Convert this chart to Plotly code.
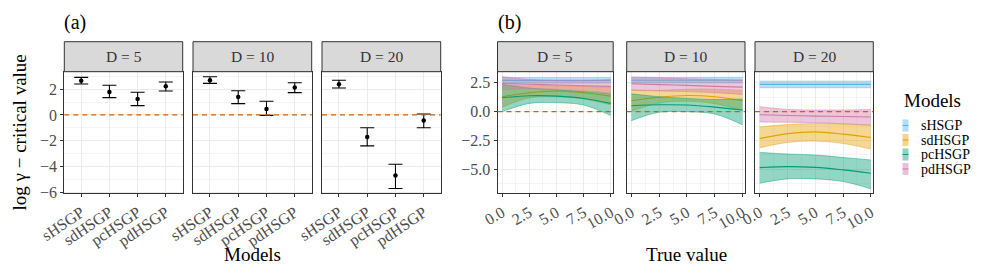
import plotly.graph_objects as go

W, H = 997, 277

# ---------------- data ----------------
models = ["sHSGP", "sdHSGP", "pcHSGP", "pdHSGP"]
dims = ["D = 5", "D = 10", "D = 20"]

# (a) critical-value estimates and intervals per D
crit_mean_D5 = [2.67, 1.79, 1.25, 2.23]
crit_lo_D5 = [2.41, 1.35, 0.73, 1.87]
crit_hi_D5 = [2.93, 2.31, 1.77, 2.57]
crit_mean_D10 = [2.70, 1.40, 0.47, 2.13]
crit_lo_D10 = [2.46, 0.88, -0.03, 1.74]
crit_hi_D10 = [2.98, 1.89, 1.07, 2.51]
crit_mean_D20 = [2.39, -1.71, -4.72, -0.44]
crit_lo_D20 = [2.10, -2.41, -5.73, -0.99]
crit_hi_D20 = [2.70, -0.99, -3.84, 0.08]

# (b) smooth fits vs true value
true_value = [0, 2.5, 5, 7.5, 10]

D5_sHSGP_mean = [2.72, 2.72, 2.72, 2.72, 2.72]
D5_sHSGP_lo = [2.48, 2.48, 2.48, 2.48, 2.48]
D5_sHSGP_hi = [2.97, 2.97, 2.97, 2.97, 2.97]
D5_sdHSGP_mean = [1.30, 1.65, 1.80, 1.65, 1.35]
D5_sdHSGP_lo = [0.40, 1.20, 1.35, 1.10, 0.60]
D5_sdHSGP_hi = [2.30, 2.25, 2.25, 2.20, 2.10]
D5_pcHSGP_mean = [1.21, 1.38, 1.35, 1.15, 0.72]
D5_pcHSGP_lo = [0.00, 0.72, 0.78, 0.58, -0.34]
D5_pcHSGP_hi = [2.40, 2.05, 1.90, 1.75, 1.55]
D5_pdHSGP_mean = [2.45, 2.38, 2.32, 2.25, 2.20]
D5_pdHSGP_lo = [1.90, 2.00, 1.95, 1.80, 1.60]
D5_pdHSGP_hi = [3.05, 2.80, 2.70, 2.70, 2.80]

D10_sHSGP_mean = [2.73, 2.73, 2.73, 2.73, 2.73]
D10_sHSGP_lo = [2.50, 2.50, 2.50, 2.50, 2.50]
D10_sHSGP_hi = [2.98, 2.98, 2.98, 2.98, 2.98]
D10_sdHSGP_mean = [0.95, 1.25, 1.40, 1.30, 0.95]
D10_sdHSGP_lo = [0.05, 0.75, 0.90, 0.70, 0.10]
D10_sdHSGP_hi = [1.90, 1.85, 1.95, 1.95, 1.85]
D10_pcHSGP_mean = [0.52, 0.60, 0.58, 0.40, 0.15]
D10_pcHSGP_lo = [-0.78, -0.05, 0.00, -0.20, -1.15]
D10_pcHSGP_hi = [1.55, 1.30, 1.15, 1.05, 1.10]
D10_pdHSGP_mean = [2.42, 2.35, 2.28, 2.20, 2.13]
D10_pdHSGP_lo = [1.85, 1.80, 1.75, 1.65, 1.50]
D10_pdHSGP_hi = [3.02, 2.95, 2.85, 2.80, 2.75]

D20_sHSGP_mean = [2.37, 2.37, 2.37, 2.37, 2.37]
D20_sHSGP_lo = [2.08, 2.08, 2.08, 2.08, 2.08]
D20_sHSGP_hi = [2.65, 2.65, 2.65, 2.65, 2.65]
D20_sdHSGP_mean = [-2.33, -1.90, -1.75, -1.95, -2.24]
D20_sdHSGP_lo = [-3.13, -2.67, -2.55, -2.76, -3.24]
D20_sdHSGP_hi = [-1.32, -1.12, -1.03, -1.07, -1.17]
D20_pcHSGP_mean = [-4.85, -4.77, -4.83, -5.05, -5.34]
D20_pcHSGP_lo = [-6.20, -5.83, -5.83, -6.06, -6.69]
D20_pcHSGP_hi = [-3.53, -3.67, -3.76, -3.97, -4.19]
D20_pdHSGP_mean = [-0.26, -0.33, -0.38, -0.42, -0.46]
D20_pdHSGP_lo = [-0.89, -0.92, -0.95, -1.05, -1.17]
D20_pdHSGP_hi = [0.43, 0.20, 0.15, 0.15, 0.20]

# ---------------- styling ----------------
FONT = "Liberation Serif"
colors = {"sHSGP": (86, 180, 233), "sdHSGP": (230, 159, 0),
          "pcHSGP": (0, 158, 115), "pdHSGP": (204, 121, 167)}
GRID = "#EBEBEB"
MINOR = "#F4F4F4"
BORDER = "#333333"
TICKC = "#4D4D4D"
REF = "#D55E00"


def rgba(c, a):
    return f"rgba({c[0]},{c[1]},{c[2]},{a})"


def px_x(p):
    return p / W


def px_y(p):
    return 1 - p / H


def sfx(n):
    return "" if n == 1 else str(n)


y_top, y_bot = 71.7, 193.3
strip_top = 41.7
a_dom = [(64.3, 182.7), (193.0, 311.7), (322.0, 440.7)]
b_dom = [(497.5, 613.2), (626.7, 745.0), (755.0, 873.3)]

fig = go.Figure()
layout = dict(width=W, height=H, margin=dict(l=0, r=0, t=0, b=0, autoexpand=False),
              paper_bgcolor="white", plot_bgcolor="white", showlegend=False,
              font=dict(family=FONT, color="black"))
shapes, annots = [], []

crit = [(crit_mean_D5, crit_lo_D5, crit_hi_D5),
        (crit_mean_D10, crit_lo_D10, crit_hi_D10),
        (crit_mean_D20, crit_lo_D20, crit_hi_D20)]
bands = [
    {"sHSGP": (D5_sHSGP_mean, D5_sHSGP_lo, D5_sHSGP_hi),
     "sdHSGP": (D5_sdHSGP_mean, D5_sdHSGP_lo, D5_sdHSGP_hi),
     "pcHSGP": (D5_pcHSGP_mean, D5_pcHSGP_lo, D5_pcHSGP_hi),
     "pdHSGP": (D5_pdHSGP_mean, D5_pdHSGP_lo, D5_pdHSGP_hi)},
    {"sHSGP": (D10_sHSGP_mean, D10_sHSGP_lo, D10_sHSGP_hi),
     "sdHSGP": (D10_sdHSGP_mean, D10_sdHSGP_lo, D10_sdHSGP_hi),
     "pcHSGP": (D10_pcHSGP_mean, D10_pcHSGP_lo, D10_pcHSGP_hi),
     "pdHSGP": (D10_pdHSGP_mean, D10_pdHSGP_lo, D10_pdHSGP_hi)},
    {"sHSGP": (D20_sHSGP_mean, D20_sHSGP_lo, D20_sHSGP_hi),
     "sdHSGP": (D20_sdHSGP_mean, D20_sdHSGP_lo, D20_sdHSGP_hi),
     "pcHSGP": (D20_pcHSGP_mean, D20_pcHSGP_lo, D20_pcHSGP_hi),
     "pdHSGP": (D20_pdHSGP_mean, D20_pdHSGP_lo, D20_pdHSGP_hi)},
]

tickfont = dict(family=FONT, size=16, color=TICKC)


def add_strip(x0, x1, label):
    shapes.append(dict(type="rect", xref="paper", yref="paper",
                       x0=px_x(x0), x1=px_x(x1), y0=px_y(y_top), y1=px_y(strip_top),
                       fillcolor="#D9D9D9", line=dict(color=BORDER, width=1), layer="above"))
    annots.append(dict(text=label, xref="paper", yref="paper", x=px_x((x0 + x1) / 2),
                       y=px_y((y_top + strip_top) / 2), showarrow=False,
                       font=dict(family=FONT, size=15.5, color="#333333"),
                       xanchor="center", yanchor="middle"))


# ---------- panel (a) ----------
for i, (dom, lab) in enumerate(zip(a_dom, dims)):
    n = i + 1
    s = sfx(n)
    mean, lo, hi = crit[i]
    fig.add_trace(go.Scatter(
        x=models, y=mean, mode="markers", xaxis="x" + s, yaxis="y" + s,
        marker=dict(color="black", size=4.5),
        error_y=dict(type="data", symmetric=False,
                     array=[h - m for h, m in zip(hi, mean)],
                     arrayminus=[m - l for m, l in zip(mean, lo)],
                     color="black", thickness=1.1, width=7)))
    layout["xaxis" + s] = dict(domain=[px_x(dom[0]), px_x(dom[1])], anchor="y" + s,
                      type="category", categoryorder="array", categoryarray=models,
                      range=[-0.6, 3.6], showgrid=True, gridcolor=GRID, gridwidth=1.2,
                      showline=True, mirror=True, linecolor=BORDER, linewidth=1,
                      ticks="outside", ticklen=3, tickcolor=BORDER, tickwidth=1,
                      tickangle=-34, tickfont=tickfont, zeroline=False, automargin=False)
    layout["yaxis" + s] = dict(domain=[px_y(y_bot), px_y(y_top)], anchor="x" + s,
                      range=[-6.10, 3.37], tick0=0, dtick=2,
                      showgrid=True, gridcolor=GRID, gridwidth=1.2,
                      minor=dict(dtick=1, tick0=0, showgrid=True, gridcolor=MINOR, gridwidth=0.7),
                      showline=True, mirror=True, linecolor=BORDER, linewidth=1,
                      ticks="outside" if i == 0 else "", ticklen=3, tickcolor=BORDER,
                      showticklabels=(i == 0), tickfont=tickfont, zeroline=False,
                      automargin=False)
    shapes.append(dict(type="line", xref=f"x{s} domain", yref="y" + s, x0=0, x1=1, y0=0, y1=0,
                       line=dict(color=REF, width=1.3, dash="5px,4px"), layer="above"))
    add_strip(dom[0], dom[1], lab)

# ---------- panel (b) ----------
for i, (dom, lab) in enumerate(zip(b_dom, dims)):
    n = i + 4
    s = sfx(n)
    for m in models:
        mean, lo, hi = bands[i][m]
        c = colors[m]
        fig.add_trace(go.Scatter(x=true_value, y=lo, mode="lines", xaxis="x" + s, yaxis="y" + s,
                                 line=dict(color=rgba(c, 0.75), width=0.6, shape="spline")))
        fig.add_trace(go.Scatter(x=true_value, y=hi, mode="lines", xaxis="x" + s, yaxis="y" + s,
                                 fill="tonexty", fillcolor=rgba(c, 0.42),
                                 line=dict(color=rgba(c, 0.75), width=0.6, shape="spline")))
        fig.add_trace(go.Scatter(x=true_value, y=mean, mode="lines", xaxis="x" + s, yaxis="y" + s,
                                 line=dict(color=rgba(c, 1), width=1.1, shape="spline")))
    layout["xaxis" + s] = dict(domain=[px_x(dom[0]), px_x(dom[1])], anchor="y" + s,
                      range=[-0.42, 10.22], tick0=0, dtick=2.5, tickformat=".1f",
                      showgrid=True, gridcolor=GRID, gridwidth=1.2,
                      minor=dict(dtick=1.25, tick0=0, showgrid=True, gridcolor=MINOR, gridwidth=0.7),
                      showline=True, mirror=True, linecolor=BORDER, linewidth=1,
                      ticks="outside", ticklen=3, tickcolor=BORDER, tickwidth=1,
                      tickangle=-30, tickfont=tickfont, zeroline=False, automargin=False)
    layout["yaxis" + s] = dict(domain=[px_y(y_bot), px_y(y_top)], anchor="x" + s,
                      range=[-7.08, 3.47], tick0=0, dtick=2.5, tickformat=".1f",
                      showgrid=True, gridcolor=GRID, gridwidth=1.2,
                      minor=dict(dtick=1.25, tick0=0, showgrid=True, gridcolor=MINOR, gridwidth=0.7),
                      showline=True, mirror=True, linecolor=BORDER, linewidth=1,
                      ticks="outside" if i == 0 else "", ticklen=3, tickcolor=BORDER,
                      showticklabels=(i == 0), tickfont=tickfont, zeroline=False,
                      automargin=False)
    shapes.append(dict(type="line", xref=f"x{s} domain", yref="y" + s, x0=0, x1=1, y0=0, y1=0,
                       line=dict(color=REF, width=1.3, dash="5px,4px"), layer="above"))
    add_strip(dom[0], dom[1], lab)

# ---------- titles ----------
annots += [
    dict(text="(a)", xref="paper", yref="paper", x=px_x(62), y=px_y(22), showarrow=False,
         xanchor="left", yanchor="middle", font=dict(family=FONT, size=20)),
    dict(text="(b)", xref="paper", yref="paper", x=px_x(496), y=px_y(22), showarrow=False,
         xanchor="left", yanchor="middle", font=dict(family=FONT, size=20)),
    dict(text="Models", xref="paper", yref="paper", x=px_x(252.5), y=px_y(254), showarrow=False,
         xanchor="center", yanchor="middle", font=dict(family=FONT, size=19)),
    dict(text="True value", xref="paper", yref="paper", x=px_x(686), y=px_y(254), showarrow=False,
         xanchor="center", yanchor="middle", font=dict(family=FONT, size=19)),
    dict(text="log γ − critical value", xref="paper", yref="paper", x=px_x(19), y=px_y(132.5),
         showarrow=False, textangle=-90, xanchor="center", yanchor="middle",
         font=dict(family=FONT, size=19)),
    dict(text="Models", xref="paper", yref="paper", x=px_x(902), y=px_y(100), showarrow=False,
         xanchor="left", yanchor="middle", font=dict(family=FONT, size=19)),
]

# ---------- legend (manual) ----------
for k, m in enumerate(models):
    cy = 125.5 + k * 14.5
    c = colors[m]
    shapes.append(dict(type="rect", xref="paper", yref="paper",
                       x0=px_x(902.5), x1=px_x(908.5), y0=px_y(cy + 6), y1=px_y(cy - 6),
                       fillcolor=rgba(c, 0.45), line=dict(width=0)))
    shapes.append(dict(type="line", xref="paper", yref="paper",
                       x0=px_x(902.5), x1=px_x(908.5), y0=px_y(cy), y1=px_y(cy),
                       line=dict(color=rgba(c, 1), width=1)))
    annots.append(dict(text=m, xref="paper", yref="paper", x=px_x(919), y=px_y(cy),
                       showarrow=False, xanchor="left", yanchor="middle",
                       font=dict(family=FONT, size=14, color="black")))

layout["shapes"] = shapes
layout["annotations"] = annots
fig.update_layout(**layout)
fig.write_html("out.html", config={"displayModeBar": False},
               post_script="document.body.style.margin='0';document.body.style.overflow='hidden';")
